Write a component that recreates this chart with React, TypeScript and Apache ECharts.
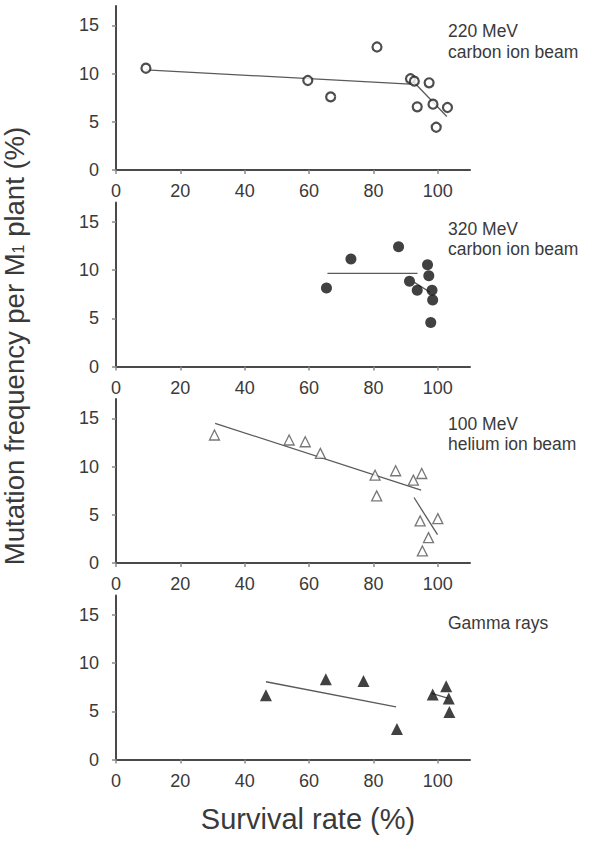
import React, { useEffect, useRef } from "react";
import * as echarts from "echarts";

// Panel 1: 220 MeV carbon ion beam (open circles)
const carbon220X = [9.3, 59.6, 66.7, 81.1, 91.5, 92.7, 93.6, 97.3, 98.5, 99.5, 103.0];
const carbon220Y = [10.55, 9.28, 7.58, 12.75, 9.46, 9.21, 6.55, 9.04, 6.82, 4.43, 6.48];
const carbon220FitA = [[9.3, 10.38], [91.4, 8.9]];
const carbon220FitB = [[91.7, 9.41], [102.8, 5.54]];

// Panel 2: 320 MeV carbon ion beam (filled circles)
const carbon320X = [65.4, 73.0, 87.8, 91.2, 93.6, 96.8, 97.2, 98.2, 98.4, 97.8];
const carbon320Y = [8.14, 11.14, 12.41, 8.83, 7.9, 10.55, 9.41, 7.9, 6.9, 4.55];
const carbon320FitA = [[65.7, 9.66], [93.7, 9.66]];
const carbon320FitB = [[92.7, 8.72], [97.6, 7.69]];

// Panel 3: 100 MeV helium ion beam (open triangles)
const heliumX = [30.6, 53.8, 58.8, 63.5, 80.5, 81.0, 86.9, 92.4, 95.0, 94.5, 100.0, 97.1, 95.2];
const heliumY = [13.27, 12.75, 12.57, 11.36, 9.1, 6.96, 9.56, 8.59, 9.28, 4.37, 4.6, 2.63, 1.25];
const heliumFitA = [[30.8, 14.48], [94.8, 7.55]];
const heliumFitB = [[92.6, 6.79], [99.9, 2.94]];

// Panel 4: Gamma rays (filled triangles)
const gammaX = [46.6, 65.2, 76.9, 87.3, 98.4, 102.6, 103.4, 103.6];
const gammaY = [6.67, 8.33, 8.13, 3.16, 6.74, 7.6, 6.32, 4.93];
const gammaFitA = [[46.6, 8.06], [87.0, 5.45]];
const gammaFitB = [[98.1, 6.85], [103.3, 6.33]];

const xTicks = [0, 20, 40, 60, 80, 100];
const yTicks = [0, 5, 10, 15];
const panelLabels = [
  ["220 MeV", "carbon ion beam"],
  ["320 MeV", "carbon ion beam"],
  ["100 MeV", "helium ion beam"],
  ["Gamma rays"],
];
const yTitle = "Mutation frequency per M";
const xTitle = "Survival rate (%)";

const FONT = "'Liberation Sans', Arial, Helvetica, sans-serif";
const TEXT = "#3a3a3a";
const AXIS = "#4a4a4a";

const zip = (xs: number[], ys: number[]) => xs.map((x, i) => [x, ys[i]]);

export default function App() {
  const ref = useRef<HTMLDivElement>(null);
  useEffect(() => {
    if (!ref.current) return;
    const chart = echarts.init(ref.current, null, { renderer: "svg" });
    const tops = [6, 202.5, 399, 595.5];
    const grids = tops.map((t) => ({ left: 116, right: 122, top: t, height: 164 }));
    const xAxes = tops.map((_, i) => ({
      type: "value",
      gridIndex: i,
      min: 0,
      max: 110,
      interval: 10,
      axisLine: { show: true, lineStyle: { color: AXIS, width: 2 } },
      axisTick: { show: true, customValues: xTicks, length: 4, lineStyle: { color: "#8a8a8a", width: 1.5 } },
      axisLabel: { customValues: xTicks, margin: 12, fontSize: 18, color: TEXT, fontFamily: FONT },
      splitLine: { show: false },
    }));
    const yAxes = tops.map((_, i) => ({
      type: "value",
      gridIndex: i,
      min: 0,
      max: 17,
      interval: 1,
      axisLine: { show: true, onZero: false, lineStyle: { color: AXIS, width: 2 } },
      axisTick: { show: true, customValues: yTicks, length: 4, lineStyle: { color: "#8a8a8a", width: 1.5 } },
      axisLabel: { customValues: yTicks, margin: 17, fontSize: 18, color: TEXT, fontFamily: FONT },
      splitLine: { show: false },
    }));

    const scatter = (i: number, data: number[][], symbol: string, size: number, style: any) => ({
      type: "scatter",
      xAxisIndex: i,
      yAxisIndex: i,
      data,
      symbol,
      symbolSize: size,
      itemStyle: style,
      z: 3,
    });
    const fit = (i: number, data: number[][]) => ({
      type: "line",
      xAxisIndex: i,
      yAxisIndex: i,
      data,
      symbol: "none",
      lineStyle: { color: "#5a5a5a", width: 1.3 },
      z: 2,
    });

    const openCircle = { color: "#fff", borderColor: "#222", borderWidth: 2.2 };
    const filled = { color: "#111" };
    const openTri = { color: "#fff", borderColor: "#555", borderWidth: 1.3 };

    const series = [
      fit(0, carbon220FitA),
      fit(0, carbon220FitB),
      scatter(0, zip(carbon220X, carbon220Y), "circle", 9, openCircle),
      fit(1, carbon320FitA),
      fit(1, carbon320FitB),
      scatter(1, zip(carbon320X, carbon320Y), "circle", 11, filled),
      fit(2, heliumFitA),
      fit(2, heliumFitB),
      scatter(2, zip(heliumX, heliumY), "triangle", 10, openTri),
      fit(3, gammaFitA),
      fit(3, gammaFitB),
      scatter(3, zip(gammaX, gammaY), "triangle", 12, filled),
    ];

    const labelCenters = [31, 228.5, 423.5, 623];
    const graphics: any[] = [];
    panelLabels.forEach((lines, i) => {
      lines.forEach((ln, j) => {
        graphics.push({
          type: "text",
          x: 448,
          y: labelCenters[i] + j * 20.5,
          style: {
            text: ln,
            fontSize: 17.5,
            fontFamily: FONT,
            fill: TEXT,
            textAlign: "left",
            textVerticalAlign: "middle",
          },
        });
      });
    });
    graphics.push({
      type: "text",
      x: 14,
      y: 346,
      rotation: Math.PI / 2,
      style: {
        text: yTitle + "{s|1} plant (%)",
        rich: { s: { fontSize: 16, fontFamily: FONT, fill: TEXT, padding: [8, 0, 0, 0] } },
        fontSize: 27.5,
        fontFamily: FONT,
        fill: TEXT,
        textAlign: "center",
        textVerticalAlign: "middle",
      },
    });
    graphics.push({
      type: "text",
      x: 308,
      y: 819,
      style: {
        text: xTitle,
        fontSize: 29,
        fontFamily: FONT,
        fill: TEXT,
        textAlign: "center",
        textVerticalAlign: "middle",
      },
    });

    chart.setOption({
      animation: false,
      backgroundColor: "#fff",
      grid: grids,
      xAxis: xAxes,
      yAxis: yAxes,
      series,
      graphic: graphics,
    });
    return () => chart.dispose();
  }, []);
  return (
    <div
      ref={ref}
      style={{ position: "absolute", left: 0, top: 0, width: 592, height: 841, background: "#fff" }}
    />
  );
}
